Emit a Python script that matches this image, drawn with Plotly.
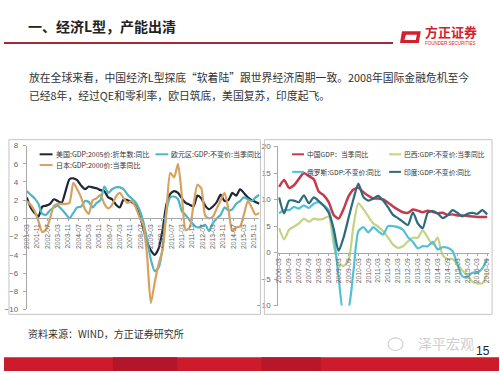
import plotly.graph_objects as go
import pandas as pd

# ---------------- data ----------------
left_start = '2001-03-01'
left_ticks = ['2001-03', '2001-11', '2002-07', '2003-03', '2003-11', '2004-07', '2005-03',
              '2005-11', '2006-07', '2007-03', '2007-11', '2008-07', '2009-03', '2009-11',
              '2010-07', '2011-03', '2011-11', '2012-07', '2013-03', '2013-11', '2014-07',
              '2015-03', '2015-11']
us = [2.3, 1.2, 0.6, 0.2,
      1.3, 1.4, 1.6, 2.1,
      1.9, 1.7, 3.0, 4.3,
      4.4, 4.2, 3.6, 3.2,
      3.5, 3.4, 3.3, 3.1,
      3.0, 2.3, 2.1, 1.5,
      1.2, 2.1, 2.0, 1.8,
      1.5, 0.4, -1.0, -2.6,
      -3.5, -4.0, -3.3, -1.3,
      1.5, 2.7, 3.0, 2.8,
      2.2, 1.7, 1.5, 1.3,
      2.5, 2.2, 1.4, 1.0,
      1.3, 1.8, 2.6, 1.9,
      2.0, 2.8, 2.5, 3.2,
      2.8, 2.3, 2.0, 1.8,
      1.6]
euro = [3.0, 2.6, 2.2, 1.6,
        0.5, 0.4, 0.9, 1.2,
        1.4, 1.0, 0.5, 0.0,
        0.6, 1.2, 1.3, 1.9,
        1.8, 1.2, 1.7, 2.0,
        3.5, 2.8, 3.2, 3.4,
        3.4, 3.2, 2.6, 2.2,
        1.8, 1.0, -0.3, -2.3,
        -4.5, -5.8, -5.4, -3.3,
        0.8, 2.3, 2.4, 2.1,
        0.8, 0.35, -0.2, -0.7,
        -1.0, -0.9, -0.7, -1.4,
        -0.5, 0.0, 0.4, 1.2,
        0.9, 1.0, 1.6, 1.9,
        2.3, 2.1, 1.9, 2.3,
        2.6]
japan = [1.9, 1.5, 0.8, -0.3,
         -1.5, -1.2, 0.0, 1.4,
         1.6, 1.6, 1.6, 1.7,
         3.9, 3.2, 2.3, 1.0,
         0.5, 2.0, 2.2, 2.6,
         1.6, 1.1, 1.5, 2.4,
         2.8, 2.2, 1.7, 1.9,
         1.3, 0.2, -0.7, -4.0,
         -9.3, -7.0, -5.0, -3.5,
         0.5, 5.0, 4.5, 6.0,
         2.5, -1.3, -1.0, 1.5,
         3.7, 3.3, 0.3, 0.0,
         0.2, 1.1, 2.0, 2.8,
         1.0, -1.4, -1.0, -0.9,
         0.4, 1.9, 1.2, 0.4,
         0.6]

right_start = '2006-03-01'
right_ticks = ['2006-03', '2006-09', '2007-03', '2007-09', '2008-03', '2008-09', '2009-03',
               '2009-09', '2010-03', '2010-09', '2011-03', '2011-09', '2012-03', '2012-09',
               '2013-03', '2013-09', '2014-03', '2014-09', '2015-03', '2015-09', '2016-03',
               '2016-09']
china = [12.4, 13.7, 12.2, 12.7, 13.9, 15.0, 14.4, 13.8, 11.5, 10.8, 9.5, 7.1, 6.4, 8.2,
         10.6, 11.9, 12.2, 11.4, 10.7, 10.2, 10.2, 10.0, 9.4, 8.7, 8.1, 7.6, 7.5, 8.1, 7.9,
         7.6, 7.9, 7.7, 7.4, 7.5, 7.1, 7.2, 7.0, 7.0, 6.9, 6.8, 6.7, 6.7, 6.7]
brazil = [4.6, 2.5, 4.3, 4.9, 5.5, 6.4, 5.8, 6.4, 6.2, 6.4, 6.8, 1.5, -2.2, -2.5, -1.5, 5.0,
          9.3, 8.2, 6.8, 5.5, 4.9, 4.0, 2.8, 1.5, 0.9, 1.2, 2.1, 2.8, 2.8, 4.2, 2.8, 1.5,
          2.8, -0.5, -1.2, -1.2, -2.1, -3.4, -4.3, -5.5, -5.8, -5.8, -4.0]
russia = [7.4, 8.0, 8.0, 8.6, 8.3, 8.9, 8.4, 9.2, 9.5, 8.9, 8.0, 3.5, -4.5, -11.5, -10.5,
          -3.5, 4.0, 4.8, 3.8, 4.8, 4.0, 3.4, 5.0, 5.0, 4.8, 4.3, 2.9, 2.0, 0.8, 1.2, 1.2,
          2.0, 0.6, 1.0, 0.9, 0.3, -2.2, -4.5, -4.6, -3.8, -3.8, -3.0, -1.2]
india = [10.4, 7.4, 9.8, 9.8, 9.5, 10.8, 9.3, 10.4, 9.7, 8.8, 7.5, 4.5, 0.3, 2.8, 6.5,
         10.1, 13.0, 10.5, 9.8, 10.2, 10.7, 9.8, 8.5, 7.1, 6.5, 5.8, 5.2, 7.6, 5.5, 4.6,
         7.5, 7.8, 7.4, 6.5, 7.0, 8.0, 7.5, 6.8, 7.3, 7.5, 7.3, 8.0, 7.2]

left_names = ['美国:GDP:2005价:折年数:同比', '欧元区:GDP:不变价:当季同比', '日本:GDP:2000价:当季同比']
right_names = ['中国GDP：当季同比', '巴西:GDP:不变价:当季同比', '俄罗斯:GDP:不变价:同比', '印度:GDP:不变价:同比']

# ---------------- helpers (pixel -> paper) ----------------
W, H = 500, 375
def X(px):
    return px / W
def Y(py):
    return 1 - py / H

CJK = 'Noto Sans CJK SC'
NUM = 'Liberation Sans'

left_x = pd.date_range(left_start, periods=len(us), freq='3MS')
right_x = pd.date_range(right_start, periods=len(china), freq='3MS')

fig = go.Figure()

left_colors = ['#1E2638', '#4DB6C4', '#D9A15E']
for vals, col in zip([us, euro, japan], left_colors):
    fig.add_trace(go.Scatter(x=left_x, y=vals, mode='lines', xaxis='x', yaxis='y',
                             line=dict(color=col, width=2.2, shape='spline', smoothing=0.6),
                             showlegend=False, hoverinfo='skip'))

right_colors = ['#C43A4A', '#C6D283', '#52C1D4', '#2C6B7D']
for vals, col, w in zip([china, brazil, russia, india], right_colors, [2.5, 2.2, 2.2, 2.2]):
    fig.add_trace(go.Scatter(x=right_x, y=vals, mode='lines', xaxis='x2', yaxis='y2',
                             line=dict(color=col, width=w, shape='spline', smoothing=0.6),
                             showlegend=False, hoverinfo='skip'))

# axes geometry
ly0, ly1 = Y(313), Y(145)
ry0, ry1 = Y(309), Y(146)
lpos = ly0 + (0 - (-10)) / 18 * (ly1 - ly0)
rpos = ry0 + (0 - (-10)) / 30 * (ry1 - ry0)

axcol = '#A8A8A8'
tickfont = dict(family=NUM, size=8, color='#666')
xtickfont = dict(family=NUM, size=6.8, color='#666')

fig.update_layout(
    width=W, height=H, autosize=False,
    margin=dict(l=0, r=0, t=0, b=0),
    paper_bgcolor='white', plot_bgcolor='rgba(0,0,0,0)',
    xaxis=dict(domain=[X(23), X(258)], anchor='free', position=lpos, type='date',
               range=['2001-03-01', '2016-03-01'],
               tickvals=[t + '-01' for t in left_ticks], ticktext=left_ticks,
               tickangle=-90, tickfont=xtickfont, showgrid=False, zeroline=False,
               showline=True, linecolor=axcol, linewidth=1, ticks='outside', ticklen=2,
               tickcolor=axcol),
    yaxis=dict(domain=[ly0, ly1], anchor='x', range=[-10, 8], dtick=2,
               tickfont=tickfont, showgrid=False, zeroline=False, showline=True,
               linecolor=axcol, linewidth=1, ticks='outside', ticklen=3, tickcolor=axcol,
               ticklabelstandoff=3),
    xaxis2=dict(domain=[X(277), X(490)], anchor='free', position=rpos, type='date',
                range=['2006-02-13', '2016-10-06'],
                tickvals=[t + '-01' for t in right_ticks], ticktext=right_ticks,
                tickangle=-90, tickfont=xtickfont, showgrid=False, zeroline=False,
                showline=True, linecolor=axcol, linewidth=1, ticks='outside', ticklen=2,
                tickcolor=axcol),
    yaxis2=dict(domain=[ry0, ry1], anchor='x2', range=[-10, 20], dtick=5,
                tickfont=tickfont, showgrid=False, zeroline=False, showline=True,
                linecolor=axcol, linewidth=1, ticks='outside', ticklen=3, tickcolor=axcol,
                ticklabelstandoff=2),
)

shapes = []
annotations = []

def rect(x0, y0, x1, y1, **kw):
    shapes.append(dict(type='rect', xref='paper', yref='paper',
                       x0=X(x0), x1=X(x1), y0=Y(y1), y1=Y(y0), **kw))

def hline(x0, x1, y, color, width):
    shapes.append(dict(type='line', xref='paper', yref='paper',
                       x0=X(x0), x1=X(x1), y0=Y(y), y1=Y(y),
                       line=dict(color=color, width=width)))

def text(x, y, s, size, color='#333', family=CJK, xanchor='left'):
    annotations.append(dict(xref='paper', yref='paper', x=X(x), y=Y(y), text=s,
                            showarrow=False, xanchor=xanchor, yanchor='middle',
                            font=dict(family=family, size=size, color=color)))

# chart frames
rect(5, 139, 259, 318, line=dict(color='#C4C4C4', width=1), fillcolor='rgba(0,0,0,0)')
rect(263, 139, 493, 318, line=dict(color='#C4C4C4', width=1), fillcolor='rgba(0,0,0,0)')

# left legend
leg_l = [(36, 154, 0), (153, 154, 1), (36, 165, 2)]
for lx, ly, k in leg_l:
    hline(lx, lx + 13, ly, left_colors[k], 2)
    text(lx + 14, ly, left_names[k], 7)

# right legend
leg_r = [(291, 154, 0), (389, 154, 1), (291, 172, 2), (389, 172, 3)]
for lx, ly, k in leg_r:
    hline(lx, lx + 12, ly, right_colors[k], 2)
    text(lx + 13, ly, right_names[k], 6.8)

# title and rule
text(22, 22.5, '<b>一、经济L型，产能出清</b>', 14, color='#222')
hline(0, 393, 40, '#A42A35', 2)

# logo
shapes.append(dict(type='path', xref='paper', yref='paper',
                   path=f'M {X(402)} {Y(28)} L {X(421)} {Y(28)} L {X(419)} {Y(40)} L {X(400)} {Y(40)} Z',
                   fillcolor='#D4202C', line=dict(width=0)))
shapes.append(dict(type='path', xref='paper', yref='paper',
                   path=f'M {X(406)} {Y(31.5)} L {X(417)} {Y(31.5)} L {X(416)} {Y(37)} L {X(404.5)} {Y(37)} Z',
                   fillcolor='white', line=dict(width=0)))
text(423, 28.5, '<b>方正证券</b>', 13, color='#D4202C')
text(423, 40, 'FOUNDER SECURITIES', 4.5, color='#D4202C', family=NUM)

# body text
text(23, 75, '放在全球来看，中国经济L型探底“软着陆”跟世界经济周期一致。2008年国际金融危机至今', 10.8)
text(23, 93, '已经8年，经过QE和零利率，欧日筑底，美国复苏，印度起飞。', 10.8)

# source
text(22, 338, '资料来源：WIND，方正证券研究所', 10)

# watermark
shapes.append(dict(type='circle', xref='paper', yref='paper',
                   x0=X(388), x1=X(403), y0=Y(355), y1=Y(342),
                   line=dict(color='#D0D0D0', width=1.2), fillcolor='rgba(0,0,0,0)'))
text(446, 347, '泽平宏观', 14, color='#CFCFCF', xanchor='center')
text(484, 356, '15', 12, color='#222', family=NUM, xanchor='center')

# bottom bar
rect(0, 362, 500, 376, fillcolor='#CC1B2B', line=dict(width=0))
rect(110, 362, 175, 376, fillcolor='#B3152A', line=dict(width=0))
rect(260, 362, 320, 376, fillcolor='#B81629', line=dict(width=0))

fig.update_layout(shapes=shapes, annotations=annotations)
fig.write_html('out.html', config={'displayModeBar': False},
               post_script="document.body.style.margin='0';document.body.style.overflow='hidden';")
